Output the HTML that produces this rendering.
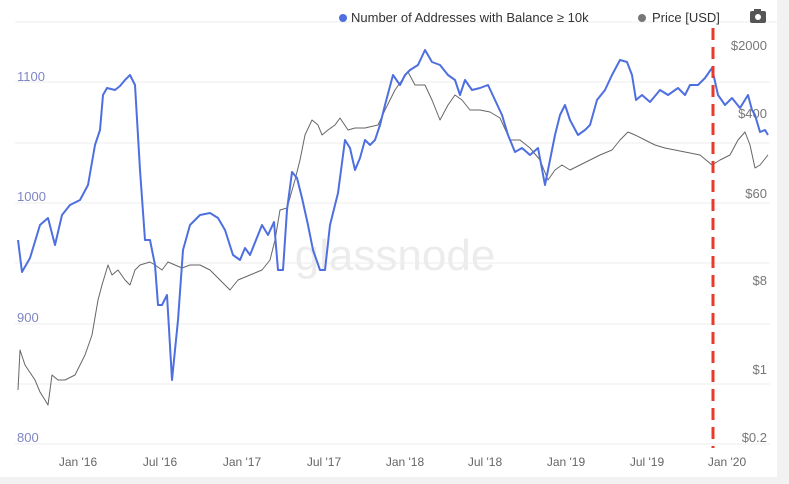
<!DOCTYPE html>
<html><head><meta charset="utf-8"><style>
html,body{margin:0;padding:0;background:#fff;}
body{width:789px;height:484px;overflow:hidden;position:relative;font-family:"Liberation Sans",sans-serif;}
</style></head><body>
<svg width="789" height="484" viewBox="0 0 789 484" xmlns="http://www.w3.org/2000/svg" style="position:absolute;left:0;top:0">
<rect x="0" y="0" width="789" height="484" fill="#fff"/>
<rect x="777" y="0" width="12" height="484" fill="#f2f2f2"/>
<rect x="0" y="477" width="789" height="7" fill="#f2f2f2"/>
<line x1="15" y1="22" x2="777" y2="22" stroke="#ededed" stroke-width="1"/>
<g stroke="#eeeeee" stroke-width="1">
<line x1="15" y1="82" x2="770" y2="82"/>
<line x1="15" y1="143" x2="770" y2="143"/>
<line x1="15" y1="203" x2="770" y2="203"/>
<line x1="15" y1="263" x2="770" y2="263"/>
<line x1="15" y1="324" x2="770" y2="324"/>
<line x1="15" y1="384" x2="770" y2="384"/>
<line x1="15" y1="444" x2="770" y2="444"/>
</g>
<text x="395" y="270" font-size="44" fill="#ececec" text-anchor="middle" font-family="Liberation Sans, sans-serif">glassnode</text>
<g font-size="13" fill="#7f86c6">
<text x="17" y="81">1100</text>
<text x="17" y="201">1000</text>
<text x="17" y="322">900</text>
<text x="17" y="442">800</text>
</g>
<g font-size="13" fill="#777" text-anchor="end">
<text x="767" y="50">$2000</text>
<text x="767" y="118">$400</text>
<text x="767" y="198">$60</text>
<text x="767" y="285">$8</text>
<text x="767" y="374">$1</text>
<text x="767" y="442">$0.2</text>
</g>
<g font-size="12" fill="#666" text-anchor="middle">
<text x="78" y="466">Jan '16</text>
<text x="160" y="466">Jul '16</text>
<text x="242" y="466">Jan '17</text>
<text x="324" y="466">Jul '17</text>
<text x="405" y="466">Jan '18</text>
<text x="485" y="466">Jul '18</text>
<text x="566" y="466">Jan '19</text>
<text x="647" y="466">Jul '19</text>
<text x="727" y="466">Jan '20</text>
</g>
<polyline fill="none" stroke="#666" stroke-width="1" stroke-linejoin="round" points="18,390 20,350 25,365 35,380 40,392 45,400 48,405 52,375 58,380 65,380 75,375 85,355 92,335 98,300 102,285 108,265 112,275 118,270 125,280 130,285 135,270 140,265 150,262 155,265 162,270 168,262 175,265 182,268 190,265 200,265 210,270 220,280 230,290 238,280 250,275 262,270 270,260 275,240 280,210 287,208 295,180 300,160 305,135 312,120 318,125 322,135 328,130 335,125 340,118 348,130 355,128 365,128 378,125 385,110 395,90 402,80 408,72 415,85 425,85 432,100 440,120 448,105 455,95 462,100 470,110 480,110 490,112 500,118 510,140 520,140 530,148 540,160 548,180 555,170 562,165 570,170 580,165 590,160 600,155 612,150 620,140 628,132 635,135 645,140 655,145 665,148 675,150 685,152 700,155 712,165 720,160 730,155 738,140 745,132 750,145 755,168 760,165 768,155"/>
<polyline fill="none" stroke="#4e6fe0" stroke-width="2" stroke-linejoin="round" points="18,240 22,272 30,258 40,225 48,218 55,245 62,215 70,205 80,200 88,185 95,145 100,130 103,95 107,88 115,90 120,86 125,80 130,75 135,85 140,170 145,240 150,240 155,265 158,305 162,305 167,295 172,380 178,320 183,250 190,225 200,215 210,213 218,218 225,230 233,255 240,260 245,248 250,255 256,240 262,225 268,235 274,222 278,270 283,270 287,210 292,172 297,178 302,198 308,225 313,250 320,270 325,270 330,225 338,193 345,140 350,148 355,170 360,158 365,140 370,145 375,140 380,125 385,105 393,75 400,85 405,75 410,70 418,65 425,50 432,62 440,65 448,75 455,80 460,95 465,80 472,90 480,88 488,85 495,100 502,115 508,135 515,152 522,148 530,155 538,148 545,185 550,160 555,135 560,115 565,105 570,120 578,135 585,130 590,125 597,100 605,90 612,75 620,60 627,62 632,75 636,100 642,95 650,102 660,90 668,95 678,88 685,95 690,85 698,85 705,78 712,68 718,95 725,105 732,98 740,108 748,95 752,110 755,115 760,132 765,130 768,135"/>
<line x1="713" y1="28" x2="713" y2="448" stroke="#e8392a" stroke-width="3" stroke-dasharray="12,7"/>
<circle cx="343" cy="18" r="4" fill="#4e6fe0"/>
<text x="351" y="22" font-size="13" fill="#333">Number of Addresses with Balance ≥ 10k</text>
<circle cx="642" cy="18" r="4" fill="#777"/>
<text x="652" y="22" font-size="13" fill="#333">Price [USD]</text>
<rect x="750" y="11" width="16" height="12" rx="2" fill="#555"/>
<rect x="754" y="9" width="7" height="3" fill="#555"/>
<circle cx="758" cy="17" r="3" fill="#fff"/>
</svg>
</body></html>
